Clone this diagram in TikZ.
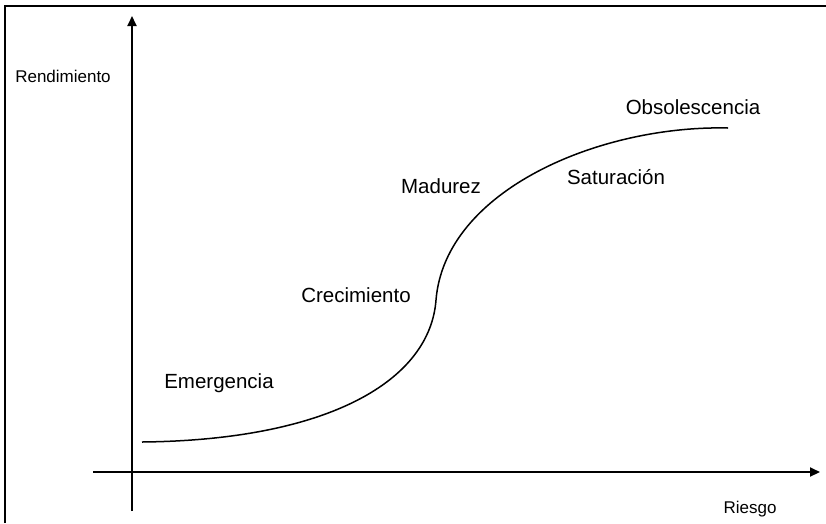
\documentclass[tikz,border=0pt]{standalone}
\usepackage{fontspec}
\setmainfont{Liberation Sans}
\usetikzlibrary{arrows.meta}
\begin{document}
\begin{tikzpicture}[x=1pt,y=-1pt,
  axis/.style={line width=2pt,-{Triangle[length=10pt,width=9pt]}},
  curve/.style={line width=1.5pt},
  axlabel/.style={font=\fontsize{17}{20}\selectfont,inner sep=0pt},
  stage/.style={font=\fontsize{20.5}{24}\selectfont,inner sep=0pt}]
\useasboundingbox (0,0) rectangle (826,523);
\draw[line width=1.5pt] (5,523) -- (5,6) -- (826,6);
% axes
\coordinate (ybot) at (132,511);
\coordinate (ytop) at (132,16);
\coordinate (xleft) at (93,472);
\coordinate (xright) at (820,472);
\draw[axis] (ybot) -- (ytop);
\draw[axis] (xleft) -- (xright);
% curve
\coordinate (c0) at (142,442);
\coordinate (c1) at (436,300);
\coordinate (c2) at (728,128);
\draw[curve] (c0) .. controls (330,440) and (430,380) .. (c1)
  .. controls (445,190) and (600,125) .. (c2);
% labels
\node[axlabel] (rend) at (63,76) {Rendimiento};
\node[axlabel] (ries) at (750,509) {Riesgo};
\node[stage] (emer) at (219,383) {Emergencia};
\node[stage] (crec) at (356,295) {Crecimiento};
\node[stage] (madu) at (441,186) {Madurez};
\node[stage] (satu) at (616,177) {Saturación};
\node[stage] (obso) at (693,107) {Obsolescencia};
\end{tikzpicture}
\end{document}
